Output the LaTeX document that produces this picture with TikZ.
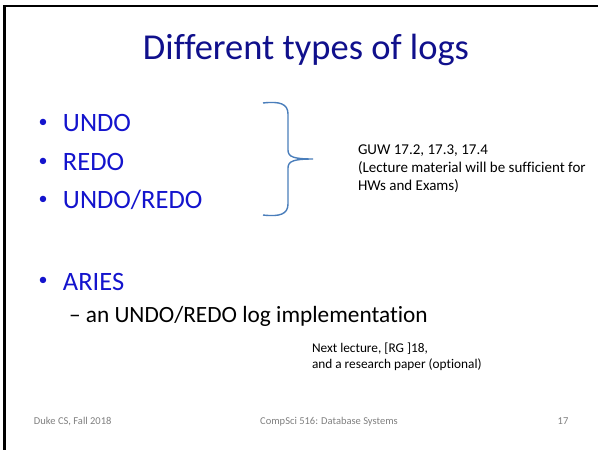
\documentclass[tikz,border=0pt]{standalone}
\usepackage{fontspec}
\setmainfont{Carlito}[Ligatures={NoCommon}]
\usepackage{xcolor}
\definecolor{titleblue}{RGB}{16,16,140}
\definecolor{itemblue}{RGB}{20,20,205}
\definecolor{bracecol}{RGB}{74,126,187}
\definecolor{footgray}{RGB}{128,128,128}

\begin{document}
\begin{tikzpicture}[
  x=1pt,y=-1pt,
  every node/.style={inner sep=0pt,outer sep=0pt},
  item/.style={anchor=base west,font=\fontsize{26.5}{30}\selectfont,text=itemblue},
  dot/.style={font=\fontsize{18}{18}\selectfont,text=itemblue},
  note/.style={anchor=base west,align=left,font=\fontsize{15}{18}\selectfont},
  foot/.style={anchor=base,font=\fontsize{10.5}{12}\selectfont,text=footgray}
]
\useasboundingbox (0,0) rectangle (598,450);
\fill[white] (0,0) rectangle (598,450);
% slide frame (top and left only)
\draw[line width=2.5pt] (4.5,450) -- (4.5,6) -- (598,6);

\node[anchor=base,font=\fontsize{36.5}{40}\selectfont,text=titleblue] (title) at (306,59) {Different types of logs};

\node[dot] (b1) at (43,123) {•};
\node[item] (undo) at (63,131) {UNDO};
\node[dot] (b2) at (43,162) {•};
\node[item] (redo) at (63,170) {REDO};
\node[dot] (b3) at (43,200) {•};
\node[item] (undoredo) at (63,208) {UNDO/REDO};
\node[dot] (b4) at (43,281) {•};
\node[item] (aries) at (63,290) {ARIES};
\node[anchor=base west,font=\fontsize{23.3}{26}\selectfont] (impl) at (69,322) {– an UNDO/REDO log implementation};

% brace
\coordinate (btop) at (263,103);
\coordinate (btip) at (313,159);
\coordinate (bbot) at (263,215);
\draw[bracecol,line width=1.4pt] (btop) .. controls (280,101) and (288,104) .. (288,114)
  -- (288,150) .. controls (288,157) and (294,159) .. (btip)
  .. controls (294,159) and (288,161) .. (288,168)
  -- (288,204) .. controls (288,214) and (280,217) .. (bbot);

\node[note] (guw) at (358,190) {GUW 17.2, 17.3, 17.4\\(Lecture material will be sufficient for\\HWs and Exams)};
\node[note,font=\fontsize{13.3}{16}\selectfont] (next) at (312,368) {Next lecture, [RG ]18,\\and a research paper (optional)};

\node[foot,anchor=base west] (f1) at (34,424) {Duke CS, Fall 2018};
\node[foot] (f2) at (329,424) {CompSci 516: Database Systems};
\node[foot] (f3) at (563,424) {17};
\end{tikzpicture}
\end{document}
